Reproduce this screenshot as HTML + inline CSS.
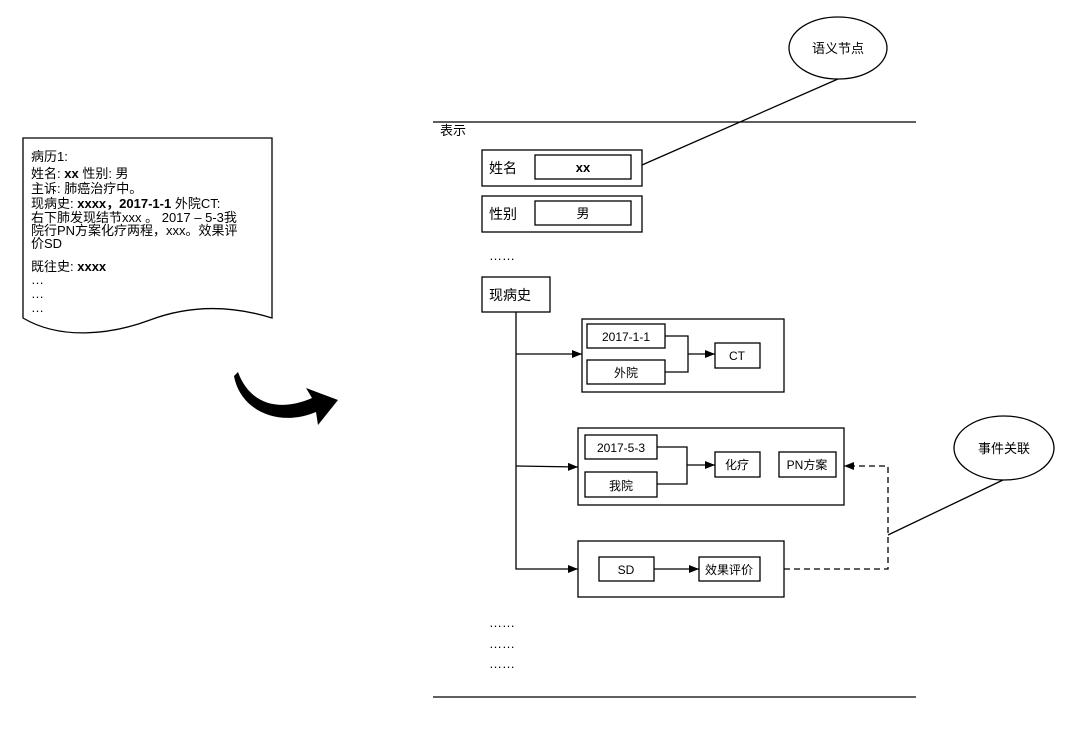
<!DOCTYPE html>
<html><head><meta charset="utf-8"><style>
html,body{margin:0;padding:0;background:#fff;}
svg{display:block;font-family:"Liberation Sans","Noto Sans CJK SC",sans-serif;}
</style></head><body>
<svg width="1080" height="742" viewBox="0 0 1080 742" xmlns="http://www.w3.org/2000/svg">
<defs>
<marker id="ar" markerWidth="10" markerHeight="8" refX="10" refY="4" orient="auto" markerUnits="userSpaceOnUse"><path d="M0,0 L10,4 L0,8 Z" fill="#000"/></marker>
<marker id="ar2" markerWidth="14" markerHeight="10" refX="14" refY="5" orient="auto" markerUnits="userSpaceOnUse"><path d="M0,0 L14,5 L0,10 Z" fill="#000"/></marker>
</defs>
<g fill="none" stroke="#000" stroke-width="1.3">
<!-- document -->
<path d="M23,138 L272,138 L272,318 C230,305 190,305 150,320 C110,335 60,340 23,318 Z"/>
<!-- lines -->
<line x1="433" y1="122" x2="916" y2="122"/>
<line x1="433" y1="697" x2="916" y2="697"/>
<!-- ellipses -->
<ellipse cx="838" cy="48" rx="49" ry="31"/>
<ellipse cx="1004" cy="448" rx="50" ry="32"/>
<line x1="642" y1="165" x2="838" y2="79"/>
<line x1="888" y1="535" x2="1003" y2="480"/>
<!-- boxes -->
<rect x="482" y="150" width="160" height="36"/>
<rect x="535" y="155" width="96" height="24"/>
<rect x="482" y="196" width="160" height="36"/>
<rect x="535" y="201" width="96" height="24"/>
<rect x="482" y="277" width="68" height="35"/>
<rect x="582" y="319" width="202" height="73"/>
<rect x="587" y="324" width="78" height="24"/>
<rect x="587" y="360" width="78" height="24"/>
<rect x="715" y="343" width="45" height="25"/>
<rect x="578" y="428" width="266" height="77"/>
<rect x="585" y="435" width="72" height="24"/>
<rect x="585" y="472" width="72" height="25"/>
<rect x="715" y="452" width="45" height="25"/>
<rect x="779" y="452" width="57" height="25"/>
<rect x="578" y="541" width="206" height="56"/>
<rect x="599" y="557" width="55" height="24"/>
<rect x="699" y="557" width="61" height="24"/>
<!-- connectors -->
<polyline points="516,312 516,569 578,569" marker-end="url(#ar)"/>
<line x1="516" y1="354" x2="582" y2="354" marker-end="url(#ar)"/>
<line x1="516" y1="466" x2="578" y2="467" marker-end="url(#ar)"/>
<polyline points="665,336 688,336 688,372 665,372"/>
<line x1="688" y1="354" x2="715" y2="354" marker-end="url(#ar)"/>
<polyline points="657,447 687,447 687,484 657,484"/>
<line x1="687" y1="465" x2="715" y2="465" marker-end="url(#ar)"/>
<line x1="654" y1="569" x2="699" y2="569" marker-end="url(#ar)"/>
<polyline points="784,569 888,569 888,466 844,466" stroke-dasharray="6,4" marker-end="url(#ar)"/>
</g>
<!-- curved arrow -->
<path d="M238,372 C250,405 280,412 312,398 L306,388 L338,400 L318,425 L316,412 C278,428 240,410 234,376 Z" fill="#000"/>
<g font-size="13" fill="#000">
<text x="31" y="161">病历1:</text>
<text x="31" y="178">姓名: <tspan font-weight="bold">xx</tspan> 性别: 男</text>
<text x="31" y="193">主诉: 肺癌治疗中。</text>
<text x="31" y="208">现病史: <tspan font-weight="bold">xxxx，2017-1-1</tspan> 外院CT:</text>
<text x="31" y="222">右下肺发现结节xxx 。 2017 – 5-3我</text>
<text x="31" y="235">院行PN方案化疗两程，xxx。效果评</text>
<text x="31" y="248">价SD</text>
<text x="31" y="271">既往史: <tspan font-weight="bold">xxxx</tspan></text>
<text x="31" y="284">…</text>
<text x="31" y="298">…</text>
<text x="31" y="312">…</text>
<text x="440" y="135">表示</text>
<text x="489" y="173" font-size="14">姓名</text>
<text x="583" y="172" text-anchor="middle" font-weight="bold">xx</text>
<text x="489" y="219" font-size="14">性别</text>
<text x="583" y="218" text-anchor="middle">男</text>
<text x="489" y="260">……</text>
<text x="489" y="300" font-size="14">现病史</text>
<text x="626" y="341" text-anchor="middle" font-size="12">2017-1-1</text>
<text x="626" y="377" text-anchor="middle" font-size="12">外院</text>
<text x="737" y="360" text-anchor="middle" font-size="12">CT</text>
<text x="621" y="452" text-anchor="middle" font-size="12">2017-5-3</text>
<text x="621" y="490" text-anchor="middle" font-size="12">我院</text>
<text x="737" y="469" text-anchor="middle" font-size="12">化疗</text>
<text x="807" y="469" text-anchor="middle" font-size="12">PN方案</text>
<text x="626" y="574" text-anchor="middle" font-size="12">SD</text>
<text x="729" y="574" text-anchor="middle" font-size="12">效果评价</text>
<text x="489" y="627">……</text>
<text x="489" y="648">……</text>
<text x="489" y="668">……</text>
<text x="838" y="53" text-anchor="middle">语义节点</text>
<text x="1004" y="453" text-anchor="middle">事件关联</text>
</g>
</svg>
</body></html>
